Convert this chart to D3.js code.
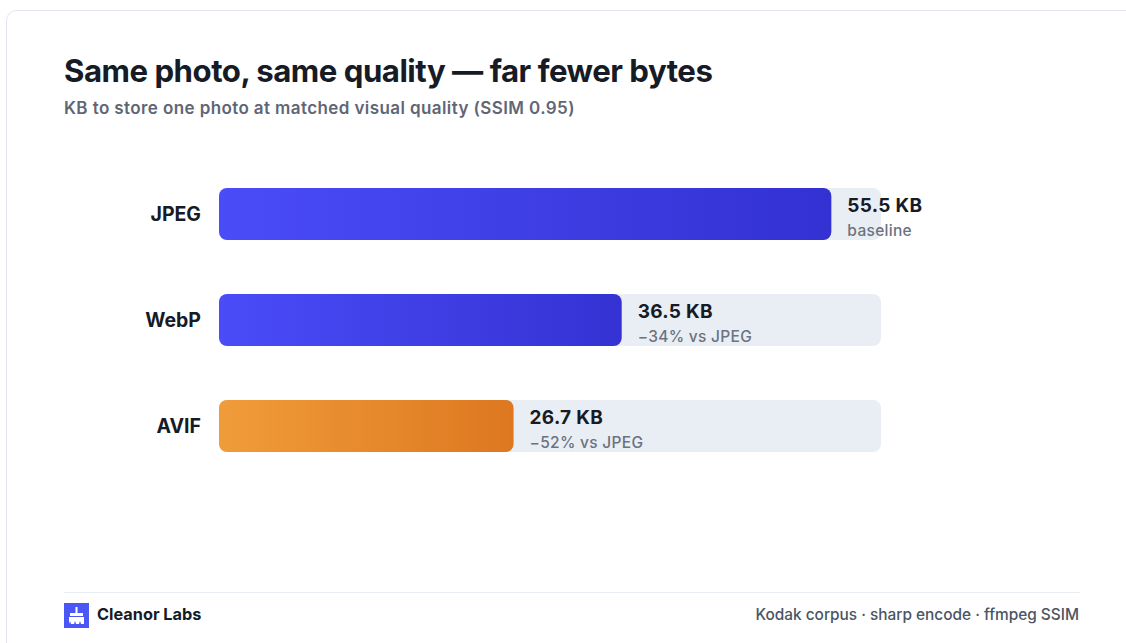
<!DOCTYPE html>
<html>
<head>
<meta charset="utf-8">
<script src="https://cdn.jsdelivr.net/npm/d3@7"></script>
<style>
  html, body { margin: 0; padding: 0; background: #fff; }
  svg { display: block; font-family: Inter, "Noto Sans", sans-serif; }
</style>
</head>
<body>
<svg id="chart" width="1126" height="643"></svg>
<script>
// data
var formats = ["JPEG", "WebP", "AVIF"];
var sizesKB = [55.5, 36.5, 26.7];
var notes = ["baseline", "\u221234% vs JPEG", "\u221252% vs JPEG"];
var maxKB = 60;

var width = 1126, height = 643;
var svg = d3.select("#chart");

// card
svg.append("rect")
    .attr("x", 6.5).attr("y", 10.5)
    .attr("width", 1140).attr("height", 660)
    .attr("rx", 10)
    .attr("fill", "#fff")
    .attr("stroke", "#e4e4ef");

svg.append("text")
    .attr("x", 64).attr("y", 82)
    .attr("font-size", 31.2).attr("font-weight", 700)
    .attr("letter-spacing", -0.5)
    .attr("fill", "#161b26")
    .text("Same photo, same quality \u2014 far fewer bytes");

svg.append("text")
    .attr("x", 64).attr("y", 114)
    .attr("font-size", 17).attr("font-weight", 600)
    .attr("letter-spacing", 0.4)
    .attr("fill", "#5f6675")
    .text("KB to store one photo at matched visual quality (SSIM 0.95)");

var x = d3.scaleLinear().domain([0, maxKB]).range([219, 881]);
var y = d3.scaleBand().domain(formats).range([188, 452]).paddingInner(54 / 106);

var defs = svg.append("defs");
var grads = [["#4a4cf8", "#3331d2"], ["#4a4cf8", "#3532d3"], ["#f09c3a", "#dd7820"]];
grads.forEach(function (g, i) {
  var lg = defs.append("linearGradient").attr("id", "g" + i)
      .attr("x1", "0").attr("x2", "1").attr("y1", "0").attr("y2", "0");
  lg.append("stop").attr("offset", "0").attr("stop-color", g[0]);
  lg.append("stop").attr("offset", "1").attr("stop-color", g[1]);
});

var rows = svg.selectAll("g.row")
    .data(formats)
    .enter().append("g").attr("class", "row");

rows.append("rect")
    .attr("x", x(0)).attr("y", function (d) { return y(d); })
    .attr("width", x(maxKB) - x(0)).attr("height", y.bandwidth())
    .attr("rx", 8)
    .attr("fill", "#e9eef4");

rows.append("rect")
    .attr("x", x(0)).attr("y", function (d) { return y(d); })
    .attr("width", function (d, i) { return x(sizesKB[i]) - x(0); })
    .attr("height", y.bandwidth())
    .attr("rx", 8)
    .attr("fill", function (d, i) { return "url(#g" + i + ")"; });

rows.append("text")
    .attr("x", 201)
    .attr("y", function (d) { return y(d) + y.bandwidth() / 2 + 7; })
    .attr("text-anchor", "end")
    .attr("font-size", 19.5).attr("font-weight", 700)
    .attr("fill", "#161b26")
    .text(function (d) { return d; });

rows.append("text")
    .attr("x", function (d, i) { return x(sizesKB[i]) + 16; })
    .attr("y", function (d) { return y(d) + 24; })
    .attr("font-size", 19).attr("font-weight", 700)
    .attr("letter-spacing", 0.3)
    .attr("fill", "#161b26")
    .text(function (d, i) { return sizesKB[i].toFixed(1) + " KB"; });

rows.append("text")
    .attr("x", function (d, i) { return x(sizesKB[i]) + 16; })
    .attr("y", function (d) { return y(d) + 47.5; })
    .attr("font-size", 15.5).attr("font-weight", 500)
    .attr("letter-spacing", 0.3)
    .attr("fill", "#6b7280")
    .text(function (d, i) { return notes[i]; });

// footer
svg.append("line")
    .attr("x1", 64).attr("x2", 1080)
    .attr("y1", 592.5).attr("y2", 592.5)
    .attr("stroke", "#e8edf3");

var logo = svg.append("g").attr("transform", "translate(64,603)");
logo.append("rect").attr("width", 25).attr("height", 25).attr("fill", "#4a57f5");
// little broom
logo.append("rect").attr("x", 11.5).attr("y", 4).attr("width", 2).attr("height", 6).attr("fill", "#fff");
logo.append("rect").attr("x", 6).attr("y", 10).attr("width", 13).attr("height", 3).attr("fill", "#fff");
logo.append("path").attr("d", "M5,14 H20 V21 H17 L16,18 L15,21 H12 L11,18 L10,21 H7 L6,18 L5,21 Z").attr("fill", "#fff");

svg.append("text")
    .attr("x", 97).attr("y", 620)
    .attr("font-size", 16.3).attr("font-weight", 700)
    .attr("fill", "#161b26")
    .text("Cleanor Labs");

svg.append("text")
    .attr("x", 1079).attr("y", 620)
    .attr("text-anchor", "end")
    .attr("font-size", 15.4).attr("font-weight", 500)
    .attr("fill", "#4b5563")
    .text("Kodak corpus \u00b7 sharp encode \u00b7 ffmpeg SSIM");
</script>
</body>
</html>
